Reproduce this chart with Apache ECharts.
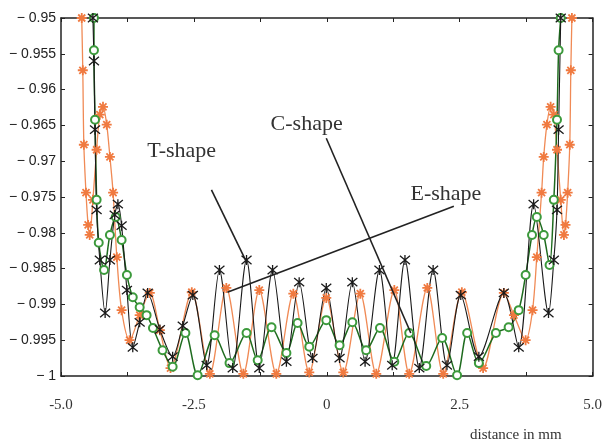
<!DOCTYPE html>
<html>
<head>
<meta charset="utf-8">
<script src="https://cdn.jsdelivr.net/npm/echarts@6/dist/echarts.min.js"></script>
<style>
  html, body { margin: 0; padding: 0; background: #fff; }
  #main { width: 605px; height: 442px; }
</style>
</head>
<body>
<div id="main"></div>
<script>
// x in mm, y as plotted
var tShape = [
  [-4.40, -0.950], [-4.38, -0.956], [-4.36, -0.9656], [-4.33, -0.9768], [-4.27, -0.9838],
  [-4.17, -0.9912], [-4.08, -0.9838], [-3.99, -0.9775], [-3.93, -0.9760], [-3.86, -0.9790],
  [-3.76, -0.9880], [-3.65, -0.9960], [-3.52, -0.9925], [-3.37, -0.9884], [-3.14, -0.9935],
  [-2.90, -0.9973], [-2.71, -0.9930], [-2.52, -0.9887], [-2.26, -0.9985], [-2.02, -0.9852],
  [-1.77, -0.9989], [-1.51, -0.9838], [-1.27, -0.9989], [-1.02, -0.9852], [-0.76, -0.9980],
  [-0.52, -0.9869], [-0.27, -0.9975], [-0.01, -0.9877], [0.24, -0.9975], [0.48, -0.9869],
  [0.72, -0.9980], [0.99, -0.9852], [1.23, -0.9985], [1.47, -0.9838], [1.74, -0.9989],
  [2.00, -0.9852], [2.26, -0.9985], [2.52, -0.9887], [2.86, -0.9973], [3.33, -0.9884],
  [3.61, -0.9960], [3.89, -0.9760], [4.17, -0.9912], [4.27, -0.9838], [4.33, -0.9768],
  [4.36, -0.9656], [4.40, -0.950]
];
var eShape = [
  [-4.61, -0.950], [-4.59, -0.9573], [-4.57, -0.9677], [-4.53, -0.9744], [-4.49, -0.9789],
  [-4.46, -0.9803], [-4.40, -0.9754], [-4.33, -0.9684], [-4.27, -0.9635], [-4.21, -0.9624],
  [-4.14, -0.9649], [-4.08, -0.9694], [-4.02, -0.9744], [-3.95, -0.9834], [-3.86, -0.9908],
  [-3.71, -0.9950], [-3.52, -0.9915], [-3.33, -0.9884], [-3.14, -0.9936], [-2.94, -0.9989],
  [-2.54, -0.9883], [-2.20, -0.9997], [-1.89, -0.9877], [-1.57, -0.9997], [-1.27, -0.9880],
  [-0.95, -0.9997], [-0.63, -0.9885], [-0.33, -0.9995], [-0.01, -0.9891], [0.31, -0.9995],
  [0.63, -0.9885], [0.93, -0.9997], [1.27, -0.9880], [1.55, -0.9997], [1.89, -0.9877],
  [2.19, -0.9997], [2.54, -0.9883], [2.94, -0.9989], [3.33, -0.9884], [3.52, -0.9915],
  [3.74, -0.9950], [3.87, -0.9908], [3.95, -0.9834], [4.04, -0.9744], [4.08, -0.9694],
  [4.14, -0.9649], [4.21, -0.9624], [4.27, -0.9635], [4.33, -0.9684], [4.40, -0.9754],
  [4.46, -0.9803], [4.49, -0.9789], [4.53, -0.9744], [4.57, -0.9677], [4.59, -0.9573],
  [4.61, -0.950]
];
var cShape = [
  [-4.38, -0.950], [-4.38, -0.9545], [-4.36, -0.9642], [-4.33, -0.9754], [-4.29, -0.9814],
  [-4.19, -0.9852], [-4.08, -0.9803], [-3.97, -0.9778], [-3.86, -0.9810], [-3.76, -0.9859],
  [-3.65, -0.9890], [-3.52, -0.9904], [-3.39, -0.9915], [-3.27, -0.9933], [-3.09, -0.9964],
  [-2.90, -0.9987], [-2.66, -0.9940], [-2.43, -0.9999], [-2.11, -0.9943], [-1.83, -0.9982],
  [-1.51, -0.9940], [-1.30, -0.9978], [-1.04, -0.9932], [-0.76, -0.9968], [-0.55, -0.9926],
  [-0.33, -0.9959], [-0.01, -0.9922], [0.24, -0.9957], [0.48, -0.9925], [0.74, -0.9964],
  [1.00, -0.9933], [1.27, -0.9980], [1.55, -0.9940], [1.87, -0.9986], [2.17, -0.9947],
  [2.45, -0.9999], [2.64, -0.9940], [2.86, -0.9982], [3.18, -0.9940], [3.42, -0.9932],
  [3.61, -0.9908], [3.74, -0.9859], [3.86, -0.9803], [3.95, -0.9778], [4.08, -0.9803],
  [4.19, -0.9845], [4.27, -0.9754], [4.33, -0.9642], [4.36, -0.9545], [4.40, -0.950]
];
var yTickLabels = ['− 1', '− 0.995', '− 0.99', '− 0.985', '− 0.98', '− 0.975',
                   '− 0.97', '− 0.965', '− 0.96', '− 0.955', '− 0.95'];
var xTickLabels = ['-5.0', '-2.5', '0', '2.5', '5.0'];

// annotation texts and pointer lines, in data units
var notes = [
  { text: 'T-shape', at: [-2.73, -0.9686], line: [[-2.17, -0.9740], [-1.51, -0.9841]] },
  { text: 'C-shape', at: [-0.38, -0.9649], line: [[-0.01, -0.9668], [1.58, -0.9940]] },
  { text: 'E-shape', at: [2.24, -0.9746], line: [[2.39, -0.9763], [-1.87, -0.9883]] }
];

var myChart = echarts.init(document.getElementById('main'));

var sansFont = '"Liberation Sans", Arial, sans-serif';
var serifFont = '"Liberation Serif", "Times New Roman", serif';

var frameLine = { show: true, onZero: false, lineStyle: { color: '#222', width: 1.5 } };
var frameTick = { inside: true, length: 4, lineStyle: { color: '#222' } };

var option = {
    animation: false,
    backgroundColor: '#fff',
    title: {
        text: 'distance in mm',
        left: 465,
        top: 423,
        textStyle: { fontFamily: serifFont, fontSize: 15, fontWeight: 'normal', color: '#333' }
    },
    grid: { left: 61, right: 11, top: 18, bottom: 66 },
    xAxis: [{
        type: 'value',
        min: -5, max: 5, interval: 1.25,
        axisLine: frameLine,
        axisTick: frameTick,
        splitLine: { show: false },
        axisLabel: {
            margin: 22,
            fontFamily: serifFont, fontSize: 15, color: '#333',
            formatter: function (v) {
                var k = Math.round((v + 5) / 2.5);
                return Math.abs(v - (-5 + k * 2.5)) < 1e-6 ? xTickLabels[k] : '';
            }
        }
    }, {
        type: 'value', position: 'top',
        min: -5, max: 5, interval: 1.25,
        axisLine: frameLine,
        axisTick: frameTick,
        axisLabel: { show: false },
        splitLine: { show: false }
    }],
    yAxis: [{
        type: 'value',
        min: -1, max: -0.95, interval: 0.005,
        axisLine: frameLine,
        axisTick: frameTick,
        splitLine: { show: false },
        axisLabel: {
            margin: 5,
            fontFamily: sansFont, fontSize: 14, color: '#222',
            formatter: function (v) {
                return yTickLabels[Math.round((v + 1) / 0.005)];
            }
        }
    }, {
        type: 'value', position: 'right',
        min: -1, max: -0.95, interval: 0.005,
        axisLine: frameLine,
        axisTick: frameTick,
        axisLabel: { show: false },
        splitLine: { show: false }
    }],
    series: [{
        name: 'E-shape',
        type: 'line',
        data: eShape,
        smooth: 0.3,
        clip: true,
        symbol: 'path://M5,0L5,10M0,5L10,5M1.5,1.5L8.5,8.5M8.5,1.5L1.5,8.5',
        symbolSize: 10,
        lineStyle: { color: '#f08a55', width: 1.3 },
        itemStyle: { color: '#f08a55', borderColor: '#f07a40', borderWidth: 1.8 }
    }, {
        name: 'C-shape',
        type: 'line',
        data: cShape,
        smooth: 0.3,
        clip: true,
        symbol: 'emptyCircle',
        symbolSize: 8,
        lineStyle: { color: '#1e6b1e', width: 1.5 },
        itemStyle: { color: '#3c9a3c', borderColor: '#3c9a3c', borderWidth: 1.8 }
    }, {
        name: 'T-shape',
        type: 'line',
        data: tShape,
        smooth: 0.3,
        clip: true,
        symbol: 'path://M0,0L10,10M10,0L0,10M5,-1L5,11',
        symbolSize: 10,
        lineStyle: { color: '#1a1a1a', width: 1.1 },
        itemStyle: { color: '#1a1a1a', borderColor: '#1a1a1a', borderWidth: 1.3 }
    }]
};
myChart.setOption(option);

// place annotations from data units
var elements = [];
notes.forEach(function (n) {
    var p = myChart.convertToPixel({ gridIndex: 0 }, n.at);
    var a = myChart.convertToPixel({ gridIndex: 0 }, n.line[0]);
    var b = myChart.convertToPixel({ gridIndex: 0 }, n.line[1]);
    elements.push({
        type: 'line', z: 100,
        shape: { x1: a[0], y1: a[1], x2: b[0], y2: b[1] },
        style: { stroke: '#222', lineWidth: 1.6 }
    });
    elements.push({
        type: 'text', z: 100,
        x: p[0], y: p[1],
        style: { text: n.text, fill: '#333', font: '22px ' + serifFont, align: 'center', verticalAlign: 'middle' }
    });
});
myChart.setOption({ graphic: elements });
</script>
</body>
</html>
